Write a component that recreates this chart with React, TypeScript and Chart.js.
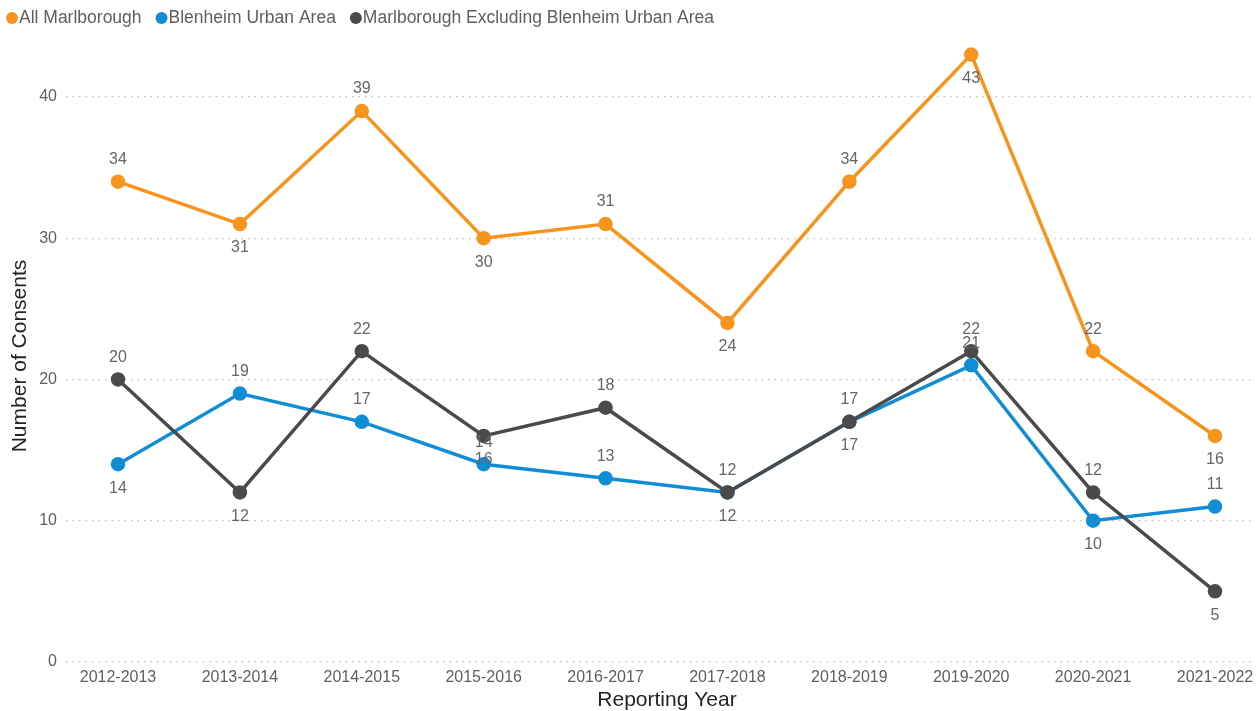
import React, { useEffect, useRef } from "react";
import { Chart, registerables } from "chart.js";

Chart.register(...registerables);

const categories = [
  "2012-2013", "2013-2014", "2014-2015", "2015-2016", "2016-2017",
  "2017-2018", "2018-2019", "2019-2020", "2020-2021", "2021-2022",
];
const allMarlborough = [34, 31, 39, 30, 31, 24, 34, 43, 22, 16];
const blenheimUrban = [14, 19, 17, 14, 13, 12, 17, 21, 10, 11];
const excludingBlenheim = [20, 12, 22, 16, 18, 12, 17, 22, 12, 5];
const yTicks = [0, 10, 20, 30, 40];
const xTitle = "Reporting Year";
const yTitle = "Number of Consents";

// label placement (a = above, b = below)
const allLabelPos = ["a", "b", "a", "b", "a", "b", "a", "b", "a", "b"];
const blenheimLabelPos = ["b", "a", "a", "a", "a", "a", "b", "a", "b", "a"];
const excludingLabelPos = ["a", "b", "a", "b", "a", "b", "a", "a", "a", "b"];

const ORANGE = "#F7941D";
const BLUE = "#118DD6";
const GRAY = "#4A4A4A";
const FONT = "'Liberation Sans', Arial, sans-serif";

const seriesMeta = [
  { label: "All Marlborough", data: allMarlborough, color: ORANGE, pos: allLabelPos, order: 0 },
  { label: "Blenheim Urban Area", data: blenheimUrban, color: BLUE, pos: blenheimLabelPos, order: 2 },
  { label: "Marlborough Excluding Blenheim Urban Area", data: excludingBlenheim, color: GRAY, pos: excludingLabelPos, order: 1 },
];

const dataLabelPlugin = {
  id: "dataLabels",
  afterDatasetsDraw(chart: any) {
    const ctx = chart.ctx;
    ctx.save();
    ctx.font = `16px ${FONT}`;
    ctx.fillStyle = "#666666";
    ctx.textAlign = "center";
    ctx.textBaseline = "middle";
    chart.data.datasets.forEach((ds: any, di: number) => {
      const meta = chart.getDatasetMeta(di);
      const pos = seriesMeta[di].pos;
      meta.data.forEach((pt: any, i: number) => {
        const v = ds.data[i].y;
        const dy = pos[i] === "a" ? -22 : 24;
        ctx.fillText(String(v), pt.x, pt.y + dy);
      });
    });
    ctx.restore();
  },
};

const legendPlugin = {
  id: "customLegend",
  afterDraw(chart: any) {
    const ctx = chart.ctx;
    ctx.save();
    ctx.font = `17.5px ${FONT}`;
    ctx.textBaseline = "middle";
    ctx.textAlign = "left";
    let x = 6;
    const y = 18;
    seriesMeta.forEach((s) => {
      ctx.fillStyle = s.color;
      ctx.beginPath();
      ctx.arc(x + 6, y, 6, 0, Math.PI * 2);
      ctx.fill();
      ctx.fillStyle = "#605E5C";
      ctx.fillText(s.label, x + 13, y);
      x += 13 + ctx.measureText(s.label).width + 14;
    });
    // category tick labels
    const xs = chart.scales.x;
    ctx.font = `16px ${FONT}`;
    ctx.fillStyle = "#605E5C";
    ctx.textAlign = "center";
    categories.forEach((c, i) => {
      ctx.fillText(c, xs.getPixelForValue(i), 678);
    });
    // axis titles
    ctx.font = `21px ${FONT}`;
    ctx.fillStyle = "#252423";
    ctx.fillText(xTitle, 667, 700);
    ctx.translate(20, 356);
    ctx.rotate(-Math.PI / 2);
    ctx.fillText(yTitle, 0, 0);
    ctx.restore();
  },
};

export default function App() {
  const ref = useRef<HTMLCanvasElement>(null);
  useEffect(() => {
    if (!ref.current) return;
    const chart = new Chart(ref.current, {
      type: "line",
      data: {
        datasets: seriesMeta.map((s) => ({
          label: s.label,
          data: s.data.map((v, i) => ({ x: i, y: v })),
          borderColor: s.color,
          backgroundColor: s.color,
          pointBackgroundColor: s.color,
          pointBorderColor: s.color,
          borderWidth: 3.5,
          pointRadius: 5.5,
          tension: 0,
          order: s.order,
          clip: false,
        })),
      },
      options: {
        animation: false,
        responsive: false,
        maintainAspectRatio: false,
        layout: { autoPadding: false, padding: { top: 30, right: 5, left: 0, bottom: 0 } },
        plugins: {
          legend: { display: false },
          tooltip: { enabled: false },
        },
        scales: {
          x: {
            type: "linear",
            min: -0.4266,
            max: 9.3035,
            grid: { display: false },
            border: { display: false },
            ticks: { display: false },
            afterFit: (scale: any) => {
              scale.height = 49;
            },
          },
          y: {
            min: 0,
            max: 44.74,
            grid: {
              color: "#BDBDBD",
              lineWidth: 1.2,
              drawTicks: false,
            },
            border: { display: false, dash: [1.5, 5] },
            afterBuildTicks: (scale: any) => {
              scale.ticks = yTicks.map((v) => ({ value: v }));
            },
            afterFit: (scale: any) => {
              scale.width = 66;
            },
            ticks: {
              padding: 9,
              color: "#605E5C",
              font: { size: 16, family: FONT },
            },
          },
        },
      } as any,
      plugins: [dataLabelPlugin, legendPlugin],
    });
    return () => chart.destroy();
  }, []);
  return (
    <div style={{ position: "fixed", left: 0, top: 0, width: 1257, height: 711, background: "#fff" }}>
      <canvas ref={ref} width={1257} height={711} style={{ width: 1257, height: 711 }} />
    </div>
  );
}
